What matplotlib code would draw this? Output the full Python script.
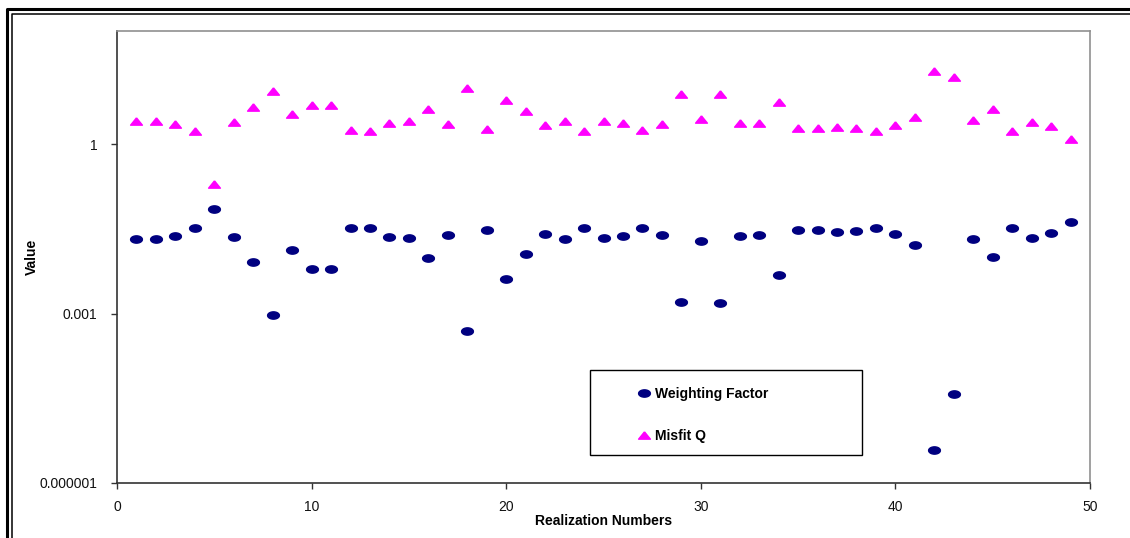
import numpy as np
import matplotlib
matplotlib.use('Agg')
import matplotlib.pyplot as plt
from matplotlib.lines import Line2D
from matplotlib.patches import Rectangle
from matplotlib.ticker import FixedLocator, FixedFormatter, NullLocator

plt.rcParams['font.family'] = ['Liberation Sans', 'DejaVu Sans']

# realization numbers 1..49
realization = list(range(1, 50))

# weighting factor
weighting = [0.0211, 0.0211, 0.0238, 0.0326, 0.0697, 0.0222, 0.0080, 0.00095, 0.0135, 0.0061,
             0.0061, 0.0321, 0.0326, 0.0229, 0.0214, 0.0096, 0.0245, 0.00049, 0.0304, 0.0040,
             0.0113, 0.0258, 0.0211, 0.0326, 0.0217, 0.0235, 0.0321, 0.0245, 0.00157, 0.0192,
             0.00155, 0.0235, 0.0243, 0.0048, 0.0296, 0.0296, 0.0277, 0.0288, 0.0326, 0.0255,
             0.0163, 0.0000039, 0.000037, 0.0205, 0.0098, 0.0326, 0.0214, 0.0266, 0.0417]

# misfit Q
misfit = [2.6, 2.6, 2.3, 1.67, 0.198, 2.5, 4.5, 8.8, 3.4, 5.0,
          5.0, 1.77, 1.67, 2.4, 2.55, 4.2, 2.26, 10.0, 1.87, 5.9,
          3.8, 2.17, 2.6, 1.67, 2.55, 2.4, 1.77, 2.26, 7.8, 2.77,
          7.8, 2.35, 2.35, 5.6, 1.89, 1.89, 2.02, 1.9, 1.72, 2.17,
          3.04, 19.8, 15.3, 2.66, 4.1, 1.72, 2.5, 2.1, 1.21]

yticks = [1e-6, 1e-3, 1]
ytick_labels = ['0.000001', '0.001', '1']
xticks = [0, 10, 20, 30, 40, 50]

W, H = 1130, 538
fig = plt.figure(figsize=(W / 100, H / 100), dpi=100)
fig.patch.set_facecolor('white')

# plot area in pixels: x 117..1090, y 31..483
ax = fig.add_axes([117 / W, 1 - 483 / H, (1090 - 117) / W, (483 - 31) / H])

# flattened markers like the original
t = np.linspace(0, 2 * np.pi, 41)
ellipse = list(zip(np.cos(t), 0.62 * np.sin(t)))
tri = [(0, 0.62), (-1, -0.62), (1, -0.62), (0, 0.62)]

ax.plot(realization, weighting, linestyle='none', marker=ellipse, ms=8.5,
        color='#000080', mec='#000080', label='Weighting Factor', clip_on=False)
ax.plot(realization, misfit, linestyle='none', marker=tri, ms=8.5,
        color='#FF00FF', mec='#FF00FF', label='Misfit Q', clip_on=False)

ax.set_yscale('log')
ax.set_xlim(0, 50)
ax.set_ylim(1e-6, 1e2)
ax.yaxis.set_major_locator(FixedLocator(yticks))
ax.yaxis.set_major_formatter(FixedFormatter(ytick_labels))
ax.yaxis.set_minor_locator(NullLocator())
ax.set_xticks(xticks)

ax.tick_params(axis='both', direction='out', length=4, width=1, color='#333333',
               labelsize=10, labelcolor='#111111')
ax.tick_params(axis='y', pad=10)
ax.tick_params(axis='x', pad=8)

for s in ['left', 'bottom']:
    ax.spines[s].set_color('#333333')
    ax.spines[s].set_linewidth(1.2)
for s in ['top', 'right']:
    ax.spines[s].set_color('#909090')
    ax.spines[s].set_linewidth(1.2)

ax.set_xlabel('Realization Numbers', fontsize=10, fontweight='bold')
ax.set_ylabel('Value', fontsize=10, fontweight='bold')
ax.xaxis.set_label_coords(0.5, -0.068)
ax.yaxis.set_label_coords(-0.08, 0.5)

# legend box
box = Rectangle((590 / W, 1 - 455 / H), 272 / W, 85 / H, transform=fig.transFigure,
                facecolor='white', edgecolor='black', lw=1, zorder=5, clip_on=False)
ax.add_patch(box)
leg = ax.legend(loc='upper left', bbox_to_anchor=(631 / W, 1 - 380 / H),
                bbox_transform=fig.transFigure, frameon=False, handlelength=0.9,
                handletextpad=0.35, labelspacing=2.0, borderpad=0,
                prop={'size': 10, 'weight': 'bold'})
leg.set_zorder(6)

# outer double frame
fig.add_artist(Line2D([7 / W, 7 / W, 1.01], [-0.01, 1 - 9 / H, 1 - 9 / H],
                      transform=fig.transFigure, color='black', lw=2.2))
fig.add_artist(Line2D([11.5 / W, 11.5 / W, 1.01], [-0.01, 1 - 13.5 / H, 1 - 13.5 / H],
                      transform=fig.transFigure, color='black', lw=1.1))

fig.savefig('out.png', dpi=100)
